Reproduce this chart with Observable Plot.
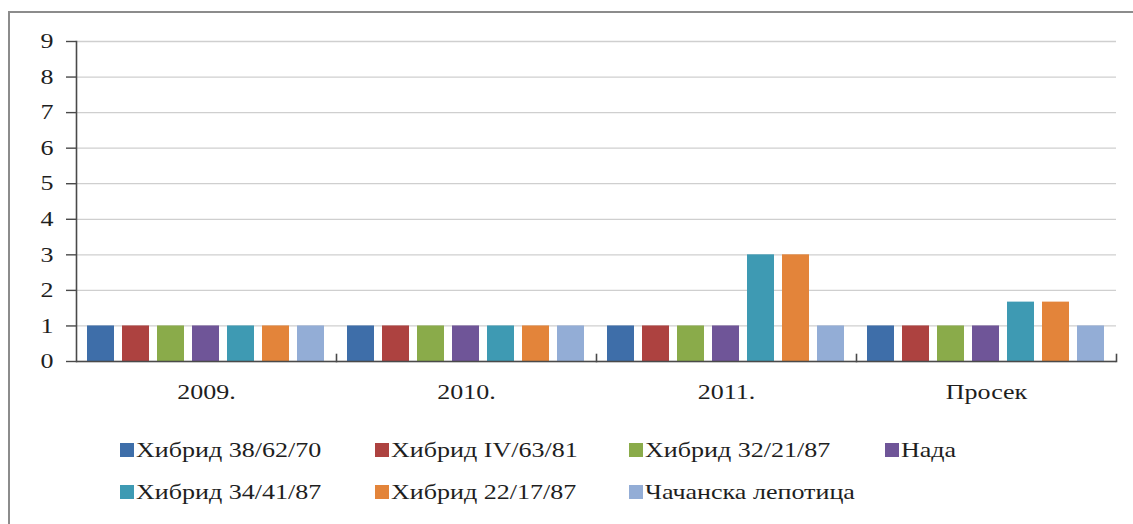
<!DOCTYPE html>
<html><head><meta charset="utf-8">
<script src="https://cdn.jsdelivr.net/npm/d3@7"></script>
<script src="https://cdn.jsdelivr.net/npm/@observablehq/plot@0.6"></script>
<style>
body{margin:0;background:#fff;font-family:"Liberation Serif","Times New Roman",serif;overflow:hidden;}
#box{position:absolute;left:8px;top:11px;width:1200px;height:600px;border-top:2px solid #8c8c8c;border-left:2px solid #8c8c8c;}
#chart{position:absolute;left:0;top:0;}
#chart svg text{font-family:"Liberation Serif","Times New Roman",serif;}
.leg{position:absolute;height:24px;white-space:nowrap;}
.leg .sw{position:absolute;left:0;top:5px;width:14px;height:14px;}
.leg .tx{position:absolute;left:16px;top:0;font-size:21px;line-height:24px;color:#1e1e1e;transform:scaleX(1.24);transform-origin:0 50%;font-family:"Liberation Serif","Times New Roman",serif;}
</style></head>
<body>
<div id="box"></div>
<div id="chart"></div>
<div id="legend"></div>
<script>
const years = ["2009.", "2010.", "2011.", "Просек"];
const series = ["Хибрид 38/62/70", "Хибрид IV/63/81", "Хибрид 32/21/87", "Нада", "Хибрид 34/41/87", "Хибрид 22/17/87", "Чачанска лепотица"];
const colors = ["#3e6ea9", "#ad4240", "#8aab4a", "#6f5598", "#3e9ab3", "#e3843a", "#93add6"];
const v_38_62_70 = [1, 1, 1, 1];
const v_IV_63_81 = [1, 1, 1, 1];
const v_32_21_87 = [1, 1, 1, 1];
const v_nada = [1, 1, 1, 1];
const v_34_41_87 = [1, 1, 3, 1.67];
const v_22_17_87 = [1, 1, 3, 1.67];
const v_lepotica = [1, 1, 1, 1];
const yTicks = [0, 1, 2, 3, 4, 5, 6, 7, 8, 9];

const allVals = [v_38_62_70, v_IV_63_81, v_32_21_87, v_nada, v_34_41_87, v_22_17_87, v_lepotica];
const data = [];
series.forEach((s, i) => years.forEach((y, j) => data.push({year: y, series: s, value: allVals[i][j]})));

const W = 1133, H = 420, mT = 41, mB = 59;
const plotH = H - mT - mB;
const chart = Plot.plot({
  width: W, height: H,
  marginLeft: 76, marginRight: 17, marginTop: mT, marginBottom: mB,
  style: {fontFamily: '"Liberation Serif","Times New Roman",serif', fontSize: "21px", color: "#1e1e1e", background: "transparent", overflow: "visible"},
  fx: {domain: years, padding: 0, label: null},
  x: {domain: series, paddingInner: 0.227, paddingOuter: 0.283, axis: null},
  y: {domain: [0, 9], label: null},
  color: {domain: series, range: colors},
  marks: [
    Plot.gridY(yTicks, {stroke: "#cfcfcf", strokeOpacity: 1, strokeWidth: 1.3}),
    Plot.barY(data, {fx: "year", x: "series", y: "value", fill: "series"}),
    Plot.ruleY([0], {stroke: "#4a4a4a", strokeWidth: 1.6}),
    Plot.frame({anchor: "left", facetAnchor: "left", stroke: "#4a4a4a", strokeWidth: 1.6}),
    Plot.frame({anchor: "right", stroke: "#4a4a4a", strokeWidth: 1.6, insetTop: plotH - 7}),
    Plot.axisY(yTicks, {tickSize: 10, tickPadding: 13, stroke: "#4a4a4a", strokeWidth: 1.4, fontSize: 21, label: null, anchor: "left"}),
    Plot.axisFx({tickSize: 0, tickPadding: 23, fontSize: 21, label: null, anchor: "bottom"})
  ]
});
document.getElementById("chart").appendChild(chart);

// widen the glyphs horizontally like the reference picture
d3.select(chart).selectAll("text").each(function () {
  const t = this.getAttribute("transform");
  if (t) this.setAttribute("transform", t + " scale(1.24,1)");
  else {
    const x = +(this.getAttribute("x") || 0);
    this.setAttribute("transform", `matrix(1.24,0,0,1,${-0.24 * x},0)`);
  }
});

const leg = document.getElementById("legend");
const cols = [120, 375, 629, 885];
const rows = [438, 480];
series.forEach((s, i) => {
  const row = i < 4 ? 0 : 1;
  const col = i < 4 ? i : i - 4;
  const d = document.createElement("div");
  d.className = "leg";
  d.style.left = cols[col] + "px";
  d.style.top = rows[row] + "px";
  d.innerHTML = `<span class="sw" style="background:${colors[i]}"></span><span class="tx">${s}</span>`;
  leg.appendChild(d);
});
</script>
</body></html>
